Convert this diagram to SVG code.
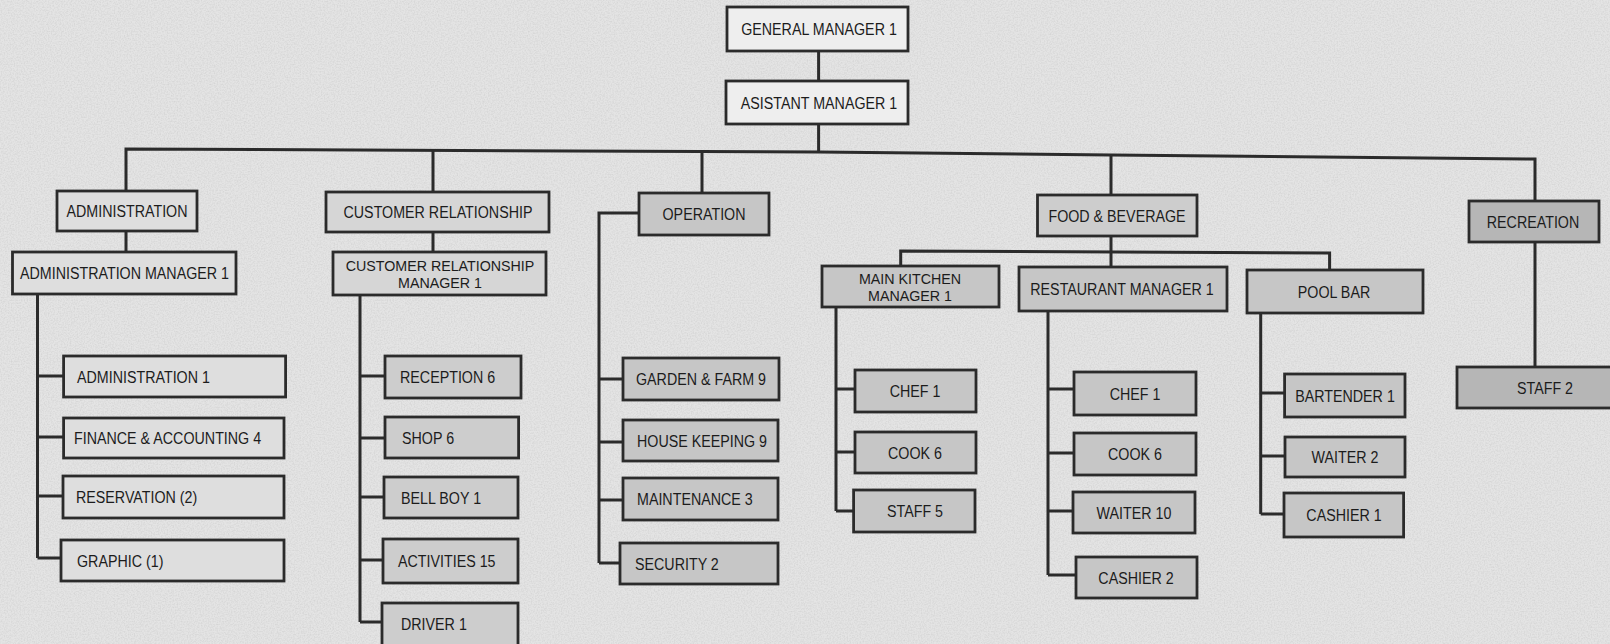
<svg xmlns="http://www.w3.org/2000/svg" width="1610" height="644" viewBox="0 0 1610 644">
<defs>
<filter id="paper" x="0" y="0" width="100%" height="100%">
<feTurbulence type="fractalNoise" baseFrequency="0.7" numOctaves="2" seed="7" result="n"/>
<feColorMatrix in="n" type="matrix" values="0 0 0 0 0.45  0 0 0 0 0.45  0 0 0 0 0.45  0 0 0 0.6 -0.22"/>
</filter>
<style>
.bg{fill:#e4e4e4}
rect.b{stroke:#2b2b2b;stroke-width:2.8}
.w{fill:#eeeeee}
.l1{fill:#dedede}
.l2{fill:#d6d6d6}
.l3{fill:#cdcdcd}
.l4{fill:#c6c6c6}
.l5{fill:#b6b6b6}
text{font-family:"Liberation Sans",Arial,Helvetica,sans-serif;font-size:17px;fill:#1c1c1c}
text.s{font-size:15.5px}
.c{text-anchor:middle}
.conn path,.conn polyline,.conn line{fill:none;stroke:#2b2b2b;stroke-width:3;stroke-linejoin:miter}
</style>
</defs>
<rect class="bg" x="0" y="0" width="1610" height="644"/>
<rect x="0" y="0" width="1610" height="644" filter="url(#paper)"/>

<g id="connectors" class="conn">
<line x1="818.6" y1="51" x2="818.6" y2="81"/>
<line x1="818.6" y1="124" x2="818.6" y2="152"/>
<polyline points="126,191 126,149 818.6,152 1111,155 1535,159 1535,201"/>
<line x1="433" y1="151" x2="433" y2="192"/>
<line x1="702" y1="153" x2="702" y2="193"/>
<line x1="1111" y1="155" x2="1111" y2="195"/>
<line x1="126" y1="231" x2="126" y2="252"/>
<line x1="433" y1="232" x2="433" y2="252"/>
<path d="M37.5 294 V558 M37.5 376 H63.6 M37.5 437 H63.6 M37.5 496 H63 M37.5 558 H61"/>
<path d="M360 295 V622 M360 376 H385 M360 438 H385 M360 497 H384 M360 560 H383 M360 622 H382"/>
<path d="M639 213 H599 V563 M599 379 H623 M599 442 H623 M599 500 H623 M599 563 H620"/>
<line x1="1111" y1="236" x2="1111" y2="267"/>
<polyline points="900.7,266 900.7,251 1329.6,253 1329.6,270"/>
<path d="M836 307 V511 M836 389 H855 M836 452 H855 M836 511 H853.6"/>
<path d="M1048 311 V575 M1048 389 H1074 M1048 453 H1074 M1048 511 H1073 M1048 575 H1076"/>
<path d="M1260.7 313 V514 M1260.7 393 H1284.6 M1260.7 456 H1285 M1260.7 514 H1284"/>
<line x1="1535" y1="242" x2="1535" y2="367"/>
</g>

<g id="general-manager"><rect class="b w" x="727" y="7" width="181" height="44"/><text class="c" transform="translate(819,35) scale(0.84,1)">GENERAL MANAGER 1</text></g>
<g id="asistant-manager"><rect class="b w" x="726" y="81" width="182" height="43"/><text class="c" transform="translate(819,108.5) scale(0.84,1)">ASISTANT MANAGER 1</text></g>

<g id="administration"><rect class="b l1" x="57" y="191" width="140" height="40"/><text class="c" transform="translate(127,217) scale(0.84,1)">ADMINISTRATION</text></g>
<g id="administration-manager"><rect class="b l1" x="12.5" y="252" width="223.5" height="42"/><text class="c" transform="translate(124.5,279) scale(0.84,1)">ADMINISTRATION MANAGER 1</text></g>
<g id="customer-relationship"><rect class="b l2" x="326" y="192" width="223" height="40"/><text class="c" transform="translate(438,218) scale(0.84,1)">CUSTOMER RELATIONSHIP</text></g>
<g id="customer-relationship-manager"><rect class="b l2" x="333" y="252" width="213" height="43"/><text class="c s" transform="translate(440,271) scale(0.92,1)">CUSTOMER RELATIONSHIP</text><text class="c s" transform="translate(440,288) scale(0.92,1)">MANAGER 1</text></g>
<g id="operation"><rect class="b l4" x="639" y="193" width="130" height="42"/><text class="c" transform="translate(704,220) scale(0.84,1)">OPERATION</text></g>
<g id="food-beverage"><rect class="b l3" x="1037.5" y="195" width="159.5" height="41"/><text class="c" transform="translate(1117,221.5) scale(0.84,1)">FOOD &amp; BEVERAGE</text></g>
<g id="recreation"><rect class="b l5" x="1469" y="201" width="130" height="41"/><text class="c" transform="translate(1533,227.5) scale(0.84,1)">RECREATION</text></g>
<g id="main-kitchen-manager"><rect class="b l4" x="822" y="266" width="177" height="41"/><text class="c s" transform="translate(910,284) scale(0.92,1)">MAIN KITCHEN</text><text class="c s" transform="translate(910,301) scale(0.92,1)">MANAGER 1</text></g>
<g id="restaurant-manager"><rect class="b l4" x="1019" y="267" width="208" height="44"/><text class="c" transform="translate(1122,295) scale(0.84,1)">RESTAURANT MANAGER 1</text></g>
<g id="pool-bar"><rect class="b l4" x="1247" y="270" width="176" height="43"/><text class="c" transform="translate(1334,297.5) scale(0.84,1)">POOL BAR</text></g>

<g id="administration-1"><rect class="b l1" x="63.6" y="356" width="222" height="41"/><text transform="translate(77,382.5) scale(0.84,1)">ADMINISTRATION 1</text></g>
<g id="finance-accounting"><rect class="b l1" x="63.6" y="418" width="220.4" height="40"/><text transform="translate(74,444) scale(0.84,1)">FINANCE &amp; ACCOUNTING 4</text></g>
<g id="reservation"><rect class="b l1" x="63" y="476" width="221" height="42"/><text transform="translate(76,503) scale(0.84,1)">RESERVATION (2)</text></g>
<g id="graphic"><rect class="b l1" x="61" y="540" width="223" height="41"/><text transform="translate(77,566.5) scale(0.84,1)">GRAPHIC (1)</text></g>

<g id="reception"><rect class="b l3" x="385" y="356" width="136" height="42"/><text transform="translate(400,383) scale(0.84,1)">RECEPTION 6</text></g>
<g id="shop"><rect class="b l3" x="385" y="417" width="133.6" height="41"/><text transform="translate(402,443.5) scale(0.84,1)">SHOP 6</text></g>
<g id="bell-boy"><rect class="b l3" x="384" y="477" width="134" height="41"/><text transform="translate(401,503.5) scale(0.84,1)">BELL BOY 1</text></g>
<g id="activities"><rect class="b l3" x="383" y="539" width="135" height="44"/><text transform="translate(398,567) scale(0.84,1)">ACTIVITIES 15</text></g>
<g id="driver"><rect class="b l3" x="382" y="603" width="136" height="50"/><text transform="translate(401,630) scale(0.84,1)">DRIVER 1</text></g>

<g id="garden-farm"><rect class="b l4" x="623" y="358" width="156" height="42"/><text transform="translate(636,385) scale(0.84,1)">GARDEN &amp; FARM 9</text></g>
<g id="house-keeping"><rect class="b l4" x="623" y="420" width="155" height="41"/><text transform="translate(637,446.5) scale(0.84,1)">HOUSE KEEPING 9</text></g>
<g id="maintenance"><rect class="b l4" x="623" y="478" width="155" height="42"/><text transform="translate(637,505) scale(0.84,1)">MAINTENANCE 3</text></g>
<g id="security"><rect class="b l4" x="620" y="543" width="158" height="41"/><text transform="translate(635,569.5) scale(0.84,1)">SECURITY 2</text></g>

<g id="mk-chef"><rect class="b l4" x="855" y="370" width="121" height="42"/><text class="c" transform="translate(915,397) scale(0.84,1)">CHEF 1</text></g>
<g id="mk-cook"><rect class="b l4" x="855" y="432" width="121" height="41"/><text class="c" transform="translate(915,458.5) scale(0.84,1)">COOK 6</text></g>
<g id="mk-staff"><rect class="b l4" x="853.6" y="490" width="121.4" height="42"/><text class="c" transform="translate(915,517) scale(0.84,1)">STAFF 5</text></g>

<g id="rm-chef"><rect class="b l4" x="1074" y="372" width="122" height="43"/><text class="c" transform="translate(1135,399.5) scale(0.84,1)">CHEF 1</text></g>
<g id="rm-cook"><rect class="b l4" x="1074" y="433" width="122" height="42"/><text class="c" transform="translate(1135,460) scale(0.84,1)">COOK 6</text></g>
<g id="rm-waiter"><rect class="b l4" x="1073" y="492" width="122" height="41"/><text class="c" transform="translate(1134,518.5) scale(0.84,1)">WAITER 10</text></g>
<g id="rm-cashier"><rect class="b l4" x="1076" y="557" width="121" height="41"/><text class="c" transform="translate(1136,583.5) scale(0.84,1)">CASHIER 2</text></g>

<g id="pb-bartender"><rect class="b l4" x="1284.6" y="374" width="120.4" height="43"/><text class="c" transform="translate(1345,401.5) scale(0.84,1)">BARTENDER 1</text></g>
<g id="pb-waiter"><rect class="b l4" x="1285" y="437" width="120" height="40"/><text class="c" transform="translate(1345,463) scale(0.84,1)">WAITER 2</text></g>
<g id="pb-cashier"><rect class="b l4" x="1284" y="493" width="119.6" height="44"/><text class="c" transform="translate(1344,521) scale(0.84,1)">CASHIER 1</text></g>

<g id="rec-staff"><rect class="b l5" x="1457" y="367" width="160" height="41"/><text class="c" transform="translate(1545,393.5) scale(0.84,1)">STAFF 2</text></g>
</svg>
